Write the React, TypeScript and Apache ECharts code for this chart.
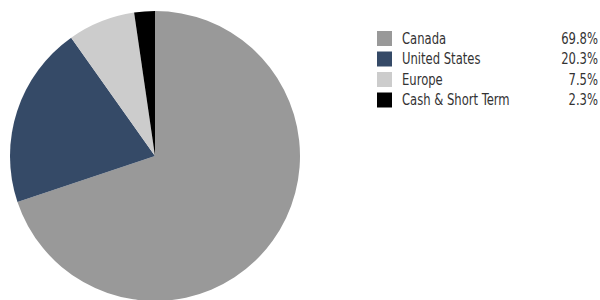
import React, { useEffect, useRef } from "react";
import * as echarts from "echarts";

const categories = ["Canada", "United States", "Europe", "Cash & Short Term"];
const values = [69.8, 20.3, 7.5, 2.3];
const valueLabels = ["69.8%", "20.3%", "7.5%", "2.3%"];
const colors = ["#999999", "#354a67", "#cccccc", "#000000"];

const FONT = "'DejaVu Sans Condensed', 'Noto Sans', Roboto, sans-serif";

export default function App() {
  const ref = useRef<HTMLDivElement>(null);
  useEffect(() => {
    if (!ref.current) return;
    const chart = echarts.init(ref.current, undefined, { renderer: "svg" });
    const data = categories.map((name, i) => ({
      name,
      value: values[i],
      itemStyle: { color: colors[i] },
    }));
    const legendTop = 31;
    const rowGap = 20.5;
    const sx = 0.86;
    const legendEls: any[] = [];
    categories.forEach((name, i) => {
      const y = legendTop + i * rowGap;
      legendEls.push({
        type: "rect",
        shape: { x: 377, y, width: 15, height: 15 },
        style: { fill: colors[i] },
        silent: true,
      });
      legendEls.push({
        type: "text",
        x: 402,
        y: y + 7.5,
        scaleX: sx,
        style: {
          x: 0,
          y: 0,
          text: name,
          fontFamily: FONT,
          fontSize: 15,
          fill: "#333333",
          align: "left",
          verticalAlign: "middle",
        },
        silent: true,
      });
      legendEls.push({
        type: "text",
        x: 598,
        y: y + 7.5,
        scaleX: sx,
        style: {
          x: 0,
          y: 0,
          text: valueLabels[i],
          fontFamily: FONT,
          fontSize: 15,
          fill: "#333333",
          align: "right",
          verticalAlign: "middle",
        },
        silent: true,
      });
    });
    chart.setOption({
      animation: false,
      graphic: legendEls,
      series: [
        {
          type: "pie",
          center: [155, 156],
          radius: 145,
          startAngle: 90,
          clockwise: true,
          label: { show: false },
          labelLine: { show: false },
          emphasis: { disabled: true },
          itemStyle: { borderWidth: 0 },
          data,
        },
      ],
    });
    return () => chart.dispose();
  }, []);
  return <div ref={ref} style={{ width: 600, height: 300, position: "absolute", left: 0, top: 0 }} />;
}
